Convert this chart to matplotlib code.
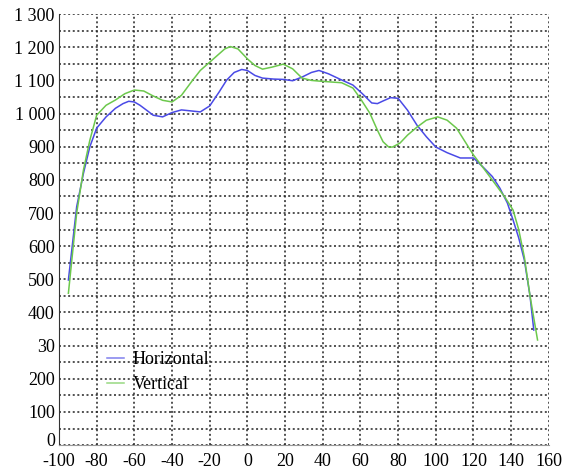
import numpy as np
import matplotlib
matplotlib.use("Agg")
import matplotlib.pyplot as plt
import matplotlib.transforms as mtransforms
from matplotlib.ticker import FixedLocator

# Horizontal profile
horiz_x = [-95, -90.6, -87, -83.6, -80, -75, -70, -66, -63, -60, -57, -53, -50, -45, -40,
           -35, -30, -25, -20, -15, -11, -7, -3, 0, 4, 8, 14, 19, 24, 29, 34, 38, 43, 49,
           56, 61, 66, 69, 72, 76, 80, 85, 90, 95, 100, 106, 113, 120, 125, 130, 134, 138,
           141, 144, 147, 150, 152]
horiz_y = [498, 719, 820, 900, 956, 990, 1016, 1030, 1037, 1035, 1025, 1008, 995, 990, 1003,
           1011, 1008, 1005, 1023, 1065, 1101, 1124, 1133, 1130, 1115, 1107, 1104, 1103, 1099,
           1110, 1124, 1130, 1120, 1104, 1086, 1060, 1032, 1030, 1038, 1048, 1046, 1010, 965,
           930, 899, 882, 866, 866, 839, 810, 775, 730, 679, 625, 558, 450, 347]

# Vertical profile
vert_x = [-95, -90.6, -87, -83.6, -80, -75, -70, -65, -60, -55, -50, -45, -40, -35, -29,
          -25, -20, -15, -12, -9, -5, 0, 4, 8, 13, 19, 24, 29, 34, 38, 45, 50, 56, 60, 65,
          69, 72, 75, 77, 81, 85, 90, 95, 101, 106, 111, 115, 120, 126, 132, 137, 141, 144,
          147, 150, 154]
vert_y = [458, 700, 830, 920, 995, 1025, 1041, 1060, 1071, 1068, 1053, 1040, 1035, 1055,
          1101, 1130, 1155, 1180, 1195, 1202, 1195, 1165, 1145, 1134, 1140, 1149, 1135, 1107,
          1100, 1098, 1095, 1093, 1077, 1045, 1001, 950, 915, 899, 899, 911, 935, 959, 980,
          990, 980, 956, 920, 875, 830, 784, 745, 709, 650, 567, 450, 317]

x_ticks = list(range(-100, 161, 20))
y_ticks = list(range(0, 1301, 100))
y_labels = ["0", "100", "200", "30", "400", "500", "600", "700", "800", "900",
            "1 000", "1 100", "1 200", "1 300"]

plt.rcParams['font.family'] = ['Liberation Serif', 'DejaVu Serif']
plt.rcParams['axes.unicode_minus'] = False

fig = plt.figure(figsize=(5.67, 4.70), dpi=100)
ax = fig.add_axes([0.104, 0.053, 0.864, 0.917])

ax.plot(horiz_x, horiz_y, color='#4a4ae6', lw=1.1, label='Horizontal')
ax.plot(vert_x, vert_y, color='#6cc84c', lw=1.1, label='Vertical')

ax.set_xlim(-100, 160)
ax.set_ylim(0, 1300)
ax.xaxis.set_major_locator(FixedLocator(x_ticks))
ax.yaxis.set_major_locator(FixedLocator(y_ticks))
ax.set_yticklabels(y_labels)
ax.yaxis.set_minor_locator(FixedLocator(list(range(50, 1300, 100))))

ax.grid(True, which='both', axis='y', color='#222222', lw=1.1, linestyle=(0, (1.3, 1.7)))
ax.grid(True, which='major', axis='x', color='#222222', lw=1.1, linestyle=(0, (1.3, 1.7)))
ax.tick_params(which='both', length=0, labelsize=13)
ax.tick_params(axis='x', pad=6)
ax.tick_params(axis='y', pad=3)

# nudge the "0" label up a little, as in the original
zero_lbl = ax.get_yticklabels()[0]
zero_lbl.set_transform(zero_lbl.get_transform() +
                       mtransforms.ScaledTranslation(0, 4 / 72, fig.dpi_scale_trans))

ax.spines['top'].set_visible(False)
ax.spines['right'].set_visible(False)
ax.spines['left'].set_color('#333333')
ax.spines['bottom'].set_color('#999999')

leg = ax.legend(loc='upper left', bbox_to_anchor=(0.084, 0.235), frameon=False,
                fontsize=13, handlelength=0.9, handletextpad=0.5, labelspacing=0.45,
                borderaxespad=0)
for line in leg.get_lines():
    line.set_alpha(0.7)

fig.savefig('out.png', dpi=100)
